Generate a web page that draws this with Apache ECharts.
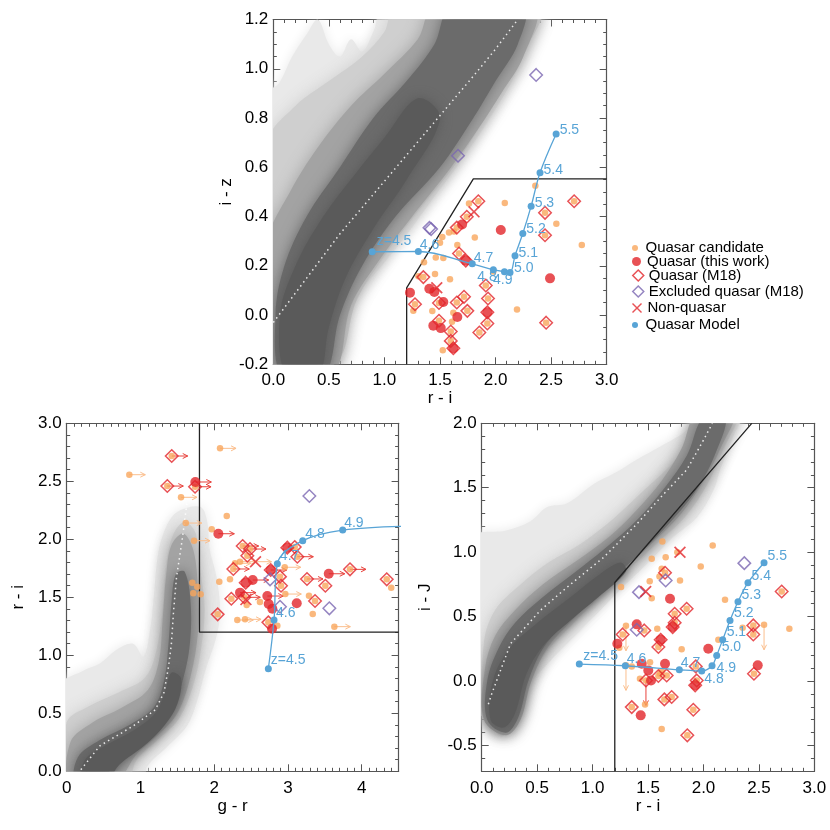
<!DOCTYPE html>
<html>
<head>
<meta charset="utf-8">
<script src="https://cdn.jsdelivr.net/npm/echarts@6.0.0/dist/echarts.min.js"></script>
<style>
html, body { margin: 0; padding: 0; background: #fff; }
#main { width: 830px; height: 830px; }
</style>
</head>
<body>
<div id="main"></div>
<script>
// ---------- data ----------
// top panel: x = r - i, y = i - z
var topCand = [[1.761,0.453],[2.083,0.455],[2.358,0.525],[2.547,0.371],[2.776,0.284],[1.813,0.315],[1.581,0.335],[1.626,0.339],[1.521,0.317],[1.50,0.294],[1.656,0.284],[1.462,0.234],[1.530,0.232],[1.356,0.214],[1.305,0.158],[1.455,0.167],[1.590,0.145],[1.98,0.177],[1.26,0.017],[1.431,0.016],[1.62,0.009],[1.608,-0.027],[2.193,0.023],[1.525,-0.143]];
var topQso = [[1.699,0.368],[2.047,0.345],[2.49,0.149],[1.23,0.091],[1.404,0.107],[1.449,0.094],[1.53,0.053],[1.656,-0.008],[1.44,-0.043],[1.507,-0.053]];
// M18 quasars: [x, y, inner]  inner 1 = also candidate, 2 = also this work
var topM18 = [[1.845,0.462,1],[1.741,0.399,1],[1.651,0.355,1],[1.671,0.25,1],[2.707,0.462,1],[2.445,0.415,1],[2.445,0.324,1],[1.35,0.154,1],[1.912,0.12,1],[1.275,0.044,1],[1.491,0.049,1],[1.716,0.074,1],[1.651,0.051,1],[1.932,0.067,1],[1.746,0.017,1],[1.491,-0.023,1],[1.926,-0.034,1],[1.597,-0.067,1],[1.854,-0.071,1],[1.597,-0.105,1],[2.455,-0.031,1],[1.732,0.221,2],[1.926,0.011,2],[1.62,-0.135,2]];
var topExcl = [[2.365,0.975],[1.662,0.647],[1.405,0.354],[1.42,0.349]];
var topNonQ = [[1.806,0.419],[1.471,0.111]];
var modelZ = [4.5,4.6,4.7,4.8,4.9,5.0,5.1,5.2,5.3,5.4,5.5];
var topModelX = [0.89,1.305,1.79,1.98,2.08,2.13,2.175,2.245,2.32,2.40,2.545];
var topModelY = [0.257,0.258,0.208,0.184,0.176,0.173,0.241,0.331,0.442,0.578,0.735];
var topRidge = [[0.0,-0.03],[0.3,0.15],[0.6,0.33],[0.9,0.49],[1.2,0.65],[1.5,0.81],[1.8,0.97],[2.0,1.08],[2.2,1.2]];
var topCut = [[1.2,-0.2],[1.2,0.11],[1.8,0.553],[3.0,0.553]];
var topCloud = [
  [[-0.05,-0.25],[0.4,-0.25],[0.5,-0.1],[0.62,0.02],[0.86,0.14],[1.14,0.29],[1.44,0.475],[1.68,0.62],[1.92,0.78],[2.16,0.96],[2.37,1.18],[2.45,1.25],[1.0,1.25],[0.9,1.15],[0.8,1.07],[0.7,1.12],[0.6,1.05],[0.5,1.1],[0.4,1.2],[0.3,1.14],[0.17,1.05],[0.05,0.94],[-0.05,0.9]],
  [[-0.05,-0.2],[-0.05,0.7],[0.2,0.85],[0.5,0.95],[0.8,1.05],[1.0,1.15],[1.1,1.25],[2.4,1.25],[2.3,1.1],[2.1,0.94],[1.88,0.78],[1.62,0.6],[1.3,0.42],[1.0,0.24],[0.75,0.06],[0.55,-0.2]],
  [[-0.05,-0.25],[-0.05,0.3],[0.15,0.5],[0.4,0.68],[0.7,0.85],[1.0,0.98],[1.3,1.12],[1.45,1.25],[2.35,1.25],[2.25,1.05],[2.05,0.9],[1.85,0.76],[1.6,0.6],[1.25,0.4],[0.95,0.22],[0.7,0.04],[0.52,-0.25]],
  [[0.08,-0.25],[0.02,0.0],[0.1,0.2],[0.3,0.4],[0.6,0.6],[0.9,0.8],[1.2,0.95],[1.45,1.1],[1.6,1.25],[2.25,1.25],[2.2,1.1],[2.0,0.95],[1.8,0.8],[1.5,0.6],[1.1,0.4],[0.8,0.2],[0.6,0.0],[0.45,-0.25]],
  [[0.12,-0.25],[0.06,0.0],[0.2,0.2],[0.45,0.4],[0.75,0.58],[1.0,0.72],[1.3,0.88],[1.5,0.8],[1.2,0.55],[0.9,0.35],[0.65,0.15],[0.5,-0.05],[0.4,-0.25]]
];

// bottom left: x = g - r, y = r - i ; third value 1 = lower limit on g - r
var blCand = [[0.849,2.557,1],[2.079,2.784,1],[1.55,2.362,1],[2.17,2.2,0],[1.614,2.14,1],[1.966,2.086,0],[1.726,1.988,1],[2.282,1.793,1],[2.35,1.807,1],[2.069,1.635,0],[2.214,1.655,0],[2.956,1.759,1],[1.703,1.626,0],[1.77,1.59,0],[1.716,1.534,0],[1.816,1.526,0],[2.44,1.434,0],[2.62,1.46,0],[2.964,1.528,1],[3.285,1.514,0],[3.336,1.356,0],[2.313,1.304,1],[2.418,1.31,1],[2.856,1.255,0],[3.629,1.247,1],[4.40,1.583,0]];
var blQso = [[1.744,2.494,1],[2.056,2.048,1],[2.522,1.649,1],[3.553,1.703,1],[2.35,1.54,1],[2.72,1.511,1],[2.739,1.442,0],[2.788,1.402,0],[3.119,1.448,0],[2.784,1.229,0]];
var blM18 = [[1.424,2.718,1,1],[1.364,2.459,1,1],[1.74,2.453,1,1],[2.386,1.942,1,1],[2.485,1.916,1,1],[2.449,1.859,1,0],[2.259,1.744,1,1],[2.427,1.626,2,0],[2.766,1.735,2,1],[2.892,1.678,1,0],[2.906,1.6,1,0],[2.991,1.928,2,0],[3.092,1.934,1,0],[3.127,1.85,1,1],[3.258,1.658,1,1],[3.841,1.741,1,1],[3.507,1.6,1,0],[4.339,1.655,1,0],[2.232,1.488,1,0],[2.408,1.5,1,1],[3.367,1.468,1,0],[2.047,1.353,1,0],[2.734,1.284,1,0]];
var blExcl = [[3.29,2.373],[2.757,1.655],[2.892,1.419],[3.561,1.405]];
var blNonQ = [[2.56,1.807,1],[2.43,1.48,0]];
var blModelX = [2.734,2.811,2.856,3.2,3.742,4.75];
var blModelY = [0.885,1.304,1.79,1.988,2.08,2.115];
var blRidge = [[0.15,-0.02],[0.45,0.22],[0.9,0.39],[1.2,0.53],[1.32,0.68],[1.38,0.9],[1.42,1.1],[1.45,1.39],[1.49,1.68],[1.56,1.97],[1.63,2.31],[1.67,2.66]];
var blCut = [[1.8,3.0],[1.8,1.2],[4.5,1.2]];
var blCloud = [
  [[-0.1,-0.1],[-0.1,0.73],[0.23,0.87],[0.45,0.93],[0.68,1.05],[0.9,1.1],[1.04,0.99],[1.13,1.22],[1.18,1.51],[1.22,1.79],[1.27,1.97],[1.4,2.17],[1.54,2.25],[1.81,2.28],[1.9,2.17],[1.94,1.91],[2.03,1.68],[2.08,1.39],[2.03,1.16],[1.88,0.87],[1.76,0.59],[1.63,0.39],[1.36,0.21],[1.09,0.04],[1.05,-0.1]],
  [[0.0,-0.1],[0.0,0.42],[0.3,0.56],[0.7,0.68],[1.05,0.8],[1.2,1.0],[1.3,1.4],[1.35,1.8],[1.45,2.05],[1.6,2.15],[1.75,2.05],[1.82,1.7],[1.87,1.4],[1.82,1.05],[1.72,0.75],[1.52,0.45],[1.25,0.28],[0.95,0.1],[0.8,-0.1]],
  [[0.05,-0.1],[0.05,0.25],[0.35,0.42],[0.75,0.55],[1.1,0.7],[1.25,0.95],[1.3,1.3],[1.35,1.7],[1.42,1.95],[1.58,2.05],[1.72,1.9],[1.78,1.55],[1.78,1.2],[1.68,0.82],[1.5,0.5],[1.25,0.32],[0.95,0.15],[0.65,-0.1]],
  [[0.12,-0.1],[0.15,0.12],[0.45,0.27],[0.85,0.4],[1.18,0.55],[1.32,0.78],[1.38,1.1],[1.42,1.45],[1.48,1.7],[1.6,1.72],[1.68,1.45],[1.67,1.1],[1.58,0.8],[1.42,0.52],[1.18,0.34],[0.88,0.18],[0.6,0.02],[0.5,-0.1]],
  [[0.2,-0.1],[0.25,0.1],[0.55,0.23],[0.9,0.35],[1.2,0.5],[1.33,0.68],[1.42,0.85],[1.55,0.8],[1.5,0.58],[1.33,0.4],[1.05,0.22],[0.72,0.06],[0.52,-0.1]]
];

// bottom right: x = r - i, y = i - J ; third / fourth value 1 = upper limit on i - J
var brCand = [[1.629,1.083,0],[1.764,1.0,0],[2.083,1.052,0],[1.533,0.949,0],[1.659,0.961,0],[1.975,0.889,0],[1.623,0.871,0],[1.603,0.812,0],[1.515,0.775,0],[1.788,0.78,0],[1.256,0.729,0],[1.533,0.643,0],[2.194,0.631,0],[1.583,0.406,0],[1.301,0.429,1],[1.803,0.246,0],[2.134,0.321,0],[2.353,0.414,0],[2.546,0.437,1],[2.774,0.406,0],[1.241,0.259,0],[1.301,0.122,1],[1.353,0.114,0],[1.518,0.147,0],[1.623,0.078,0],[1.427,0.019,0],[1.473,-0.181,0],[1.623,-0.372,0],[1.608,0.057,0]];
var brQso = [[1.698,0.639,0],[1.398,0.44,0],[1.223,0.29,0],[2.043,0.251,0],[2.489,0.122,0],[1.443,0.135,0],[1.502,0.083,0],[1.527,0.005,0],[1.653,0.135,0],[1.434,-0.266,0]];
var brM18 = [[1.653,0.84,1,0],[2.705,0.695,1,0],[1.848,0.561,1,0],[1.74,0.522,1,0],[1.74,0.453,1,0],[1.722,0.419,2,0],[1.271,0.362,1,0],[1.466,0.393,1,0],[1.614,0.321,2,0],[1.593,0.264,1,0],[2.449,0.432,1,0],[2.449,0.362,1,0],[1.93,0.114,1,0],[1.939,0.005,1,0],[1.925,-0.033,2,0],[2.455,0.057,1,0],[1.593,0.039,1,0],[1.668,0.044,1,0],[1.481,0.005,1,1],[1.353,-0.202,1,0],[1.647,-0.142,1,0],[1.713,-0.124,1,0],[1.908,-0.222,1,0],[1.854,-0.421,1,0]];
var brExcl = [[2.368,0.915],[1.659,0.781],[1.418,0.69],[1.398,0.398]];
var brNonQ = [[1.788,1.0,0],[1.479,0.695,0]];
var brModelX = [0.88,1.295,1.782,1.984,2.077,2.119,2.173,2.239,2.311,2.401,2.546];
var brModelY = [0.132,0.119,0.088,0.078,0.119,0.199,0.321,0.47,0.615,0.763,0.918];
var brRidge = [[0.06,-0.18],[0.09,-0.1],[0.26,0.29],[0.53,0.55],[0.8,0.75],[1.1,0.96],[1.4,1.22],[1.64,1.45],[1.85,1.64],[2.0,1.87],[2.08,2.0]];
var brCut = [[1.2,-0.7],[1.2,0.765],[2.435,2.0]];
var brCloud = [
  [[-0.1,-0.2],[-0.1,1.1],[0.23,1.17],[0.44,1.24],[0.59,1.35],[0.77,1.38],[1.01,1.53],[1.19,1.61],[1.4,1.72],[1.61,1.82],[1.85,1.95],[1.94,2.1],[2.35,2.1],[2.27,1.9],[2.15,1.64],[2.09,1.48],[1.94,1.27],[1.73,1.12],[1.55,0.96],[1.31,0.76],[1.07,0.55],[0.83,0.34],[0.59,0.13],[0.35,-0.12],[0.26,-0.36],[0.17,-0.43],[0.05,-0.3]],
  [[0.02,-0.2],[0.02,0.3],[0.12,0.55],[0.35,0.75],[0.6,0.92],[0.9,1.07],[1.2,1.27],[1.45,1.47],[1.7,1.67],[1.9,1.87],[2.03,2.1],[2.32,2.1],[2.18,1.8],[2.03,1.52],[1.83,1.27],[1.58,1.07],[1.33,0.87],[1.07,0.66],[0.82,0.44],[0.57,0.21],[0.4,-0.05],[0.32,-0.3],[0.2,-0.42],[0.08,-0.35]],
  [[0.02,-0.3],[0.03,0.1],[0.12,0.35],[0.3,0.55],[0.55,0.75],[0.85,0.93],[1.15,1.12],[1.4,1.33],[1.62,1.55],[1.8,1.8],[1.95,2.1],[2.28,2.1],[2.15,1.8],[2.0,1.55],[1.8,1.3],[1.55,1.08],[1.3,0.88],[1.05,0.67],[0.8,0.46],[0.58,0.24],[0.44,-0.02],[0.35,-0.3],[0.22,-0.42]],
  [[0.05,-0.3],[0.05,0.0],[0.15,0.25],[0.3,0.45],[0.55,0.65],[0.85,0.85],[1.1,1.02],[1.4,1.25],[1.65,1.5],[1.85,1.75],[2.0,2.05],[2.2,2.05],[2.1,1.75],[1.95,1.5],[1.75,1.28],[1.5,1.05],[1.25,0.85],[1.0,0.65],[0.75,0.45],[0.55,0.25],[0.42,0.0],[0.33,-0.28],[0.22,-0.4]],
  [[0.08,-0.3],[0.1,0.0],[0.25,0.25],[0.5,0.45],[0.8,0.65],[1.05,0.82],[1.25,0.92],[1.3,0.85],[1.05,0.65],[0.8,0.47],[0.55,0.27],[0.4,0.05],[0.3,-0.25],[0.2,-0.36]]
];

// tick labels
var topXTicks = [0, 0.5, 1, 1.5, 2, 2.5, 3];
var topYTicks = [-0.2, 0, 0.2, 0.4, 0.6, 0.8, 1.0, 1.2];
var blXTicks = [0, 1, 2, 3, 4];
var blYTicks = [0, 0.5, 1, 1.5, 2, 2.5, 3];
var brXTicks = [0, 0.5, 1, 1.5, 2, 2.5, 3];
var brYTicks = [-0.5, 0, 0.5, 1, 1.5, 2];

// ---------- styles ----------
var FONT = 'Liberation Sans, Arial, Helvetica, sans-serif';
var AXIS = '#555';
var C_CAND = '#f9a65c', C_QSO = '#e2252a', C_EXCL = '#7a66b2', C_MODEL = '#58a4d6';
var C_ARR_CAND = '#fbbf8e', C_ARR_QSO = '#e8433d';
// outer -> inner density levels
var CLOUD_COLORS = ['#e9e9e9', '#cfcfcf', '#a3a3a3', '#6b6b6b', '#5a5a5a'];
var CLOUD_BLUR = [12, 16, 16, 14, 12];
var X_PATH = 'path://M0,1L1,0L5,4L9,0L10,1L6,5L10,9L9,10L5,6L1,10L0,9L4,5Z';

var topLabelOff = [[1,-11],[-2,-6],[-2,-6],[-19.5,7],[-15,8],[0.5,-4],[0,-3],[0,-4],[0,-3],[0,-3],[0,-4]];
var blLabelOff = [[-1,-8],[-1.5,-7],[-1,-8],[-1,-7],[-2,-7],null];
var brLabelOff = [[0.5,-8],[-2,-7],[-2,-7],[-1,8],[1,2],[1.5,-8],[0.5,-8],[0.5,-7],[0,-7],[0,-7],[0,-7]];

function steps(a, b, s) {
  var out = [];
  for (var v = a; v <= b + 1e-9; v += s) out.push(Math.round(v * 1000) / 1000);
  return out;
}
function fmt1(v) { return (Math.abs(v) < 1e-9 ? 0 : v).toFixed(1); }
function fmt0(v) { return String(Math.round(v)); }

var xAxes = [], yAxes = [];
function addAxes(list, gi, dim, min, max, major, minorStep, fmt, name, nameGap, margin) {
  var pos = dim === 'x' ? ['bottom', 'top'] : ['left', 'right'];
  var minor = steps(min, max, minorStep);
  function base(p, showLine) {
    return {
      gridIndex: gi, type: 'value', position: p, min: min, max: max,
      splitLine: { show: false },
      axisLine: { show: showLine, onZero: false, lineStyle: { color: AXIS, width: 1.2 } }
    };
  }
  var main = base(pos[0], true);
  main.axisTick = { show: true, inside: true, length: 7, customValues: major, lineStyle: { color: AXIS } };
  main.axisLabel = { show: true, customValues: major, formatter: fmt, margin: margin, color: '#000', fontSize: 17, fontFamily: FONT };
  main.name = name;
  main.nameLocation = 'middle';
  main.nameGap = nameGap;
  main.nameTextStyle = { color: '#000', fontSize: 17, fontFamily: FONT };
  var opp = base(pos[1], true);
  opp.axisTick = { show: true, inside: true, length: 7, customValues: major, lineStyle: { color: AXIS } };
  opp.axisLabel = { show: false };
  var mn = base(pos[0], false);
  mn.axisTick = { show: true, inside: true, length: 3.5, customValues: minor, lineStyle: { color: AXIS } };
  mn.axisLabel = { show: false };
  var mo = base(pos[1], false);
  mo.axisTick = { show: true, inside: true, length: 3.5, customValues: minor, lineStyle: { color: AXIS } };
  mo.axisLabel = { show: false };
  list.push(main, opp, mn, mo);
}

addAxes(xAxes, 0, 'x', 0, 3, topXTicks, 0.1, fmt1, 'r - i', 25, 8);
addAxes(yAxes, 0, 'y', -0.2, 1.2, topYTicks, 0.05, fmt1, 'i - z', 30, 5);
addAxes(xAxes, 1, 'x', 0, 4.5, blXTicks, 0.1, fmt0, 'g - r', 26, 9);
addAxes(yAxes, 1, 'y', 0, 3, blYTicks, 0.1, fmt1, 'r - i', 40, 5);
addAxes(xAxes, 2, 'x', 0, 3, brXTicks, 0.1, fmt1, 'r - i', 26, 9);
addAxes(yAxes, 2, 'y', -0.7, 2.0, brYTicks, 0.1, fmt1, 'i - J', 48, 5);

function cloudSeries(ai, polys) {
  return {
    type: 'custom', coordinateSystem: 'cartesian2d', xAxisIndex: ai, yAxisIndex: ai,
    clip: true, silent: true, z: 1,
    data: polys.map(function (p, i) { return [i]; }),
    renderItem: function (params, api) {
      var i = params.dataIndex;
      var pts = polys[i].map(function (p) { return api.coord(p); });
      return {
        type: 'polygon',
        shape: { points: pts, smooth: 0.35 },
        style: { fill: CLOUD_COLORS[i], shadowBlur: CLOUD_BLUR[i], shadowColor: CLOUD_COLORS[i] }
      };
    }
  };
}

function arrowSeries(ai, pts, color, dir) {
  return {
    type: 'custom', coordinateSystem: 'cartesian2d', xAxisIndex: ai, yAxisIndex: ai,
    silent: true, z: 3,
    data: pts.map(function (p) { return [p[0], p[1]]; }),
    encode: { x: 0, y: 1 },
    renderItem: function (params, api) {
      var p = api.coord([api.value(0), api.value(1)]);
      var q, head;
      if (dir === 'right') {
        q = [p[0] + 16, p[1]];
        head = [[q[0] - 5, q[1] - 2.5], q, [q[0] - 5, q[1] + 2.5]];
      } else {
        q = [p[0], p[1] + 25];
        head = [[q[0] - 2.5, q[1] - 5], q, [q[0] + 2.5, q[1] - 5]];
      }
      return {
        type: 'group',
        children: [
          { type: 'line', shape: { x1: p[0], y1: p[1], x2: q[0], y2: q[1] }, style: { stroke: color, lineWidth: 1 } },
          { type: 'polyline', shape: { points: head }, style: { stroke: color, fill: null, lineWidth: 1 } }
        ]
      };
    }
  };
}

function xy(p) { return [p[0], p[1]]; }

function panel(ai, P) {
  var cand = P.cand.map(xy).concat(P.m18.filter(function (p) { return p[2] === 1; }).map(xy));
  var qso = P.qso.map(xy).concat(P.m18.filter(function (p) { return p[2] === 2; }).map(xy));
  var s = [];
  s.push(cloudSeries(ai, P.cloud));
  s.push({ type: 'line', xAxisIndex: ai, yAxisIndex: ai, data: P.ridge, showSymbol: false, silent: true, z: 2,
    lineStyle: { color: 'rgba(255,255,255,0.85)', width: 1.5, type: [1.5, 3.5] } });
  s.push({ type: 'line', xAxisIndex: ai, yAxisIndex: ai, data: P.cut, showSymbol: false, silent: true, z: 2,
    lineStyle: { color: '#222', width: 1.3 } });
  if (P.arrow) {
    var candLim = P.cand.filter(function (p) { return p[2] === 1; })
      .concat(P.nonq.filter(function (p) { return p[2] === 1; }));
    var redLim = P.qso.filter(function (p) { return p[2] === 1; })
      .concat(P.m18.filter(function (p) { return p[3] === 1; }));
    s.push(arrowSeries(ai, candLim, C_ARR_CAND, P.arrow));
    s.push(arrowSeries(ai, redLim, C_ARR_QSO, P.arrow));
  }
  s.push({ name: 'Quasar candidate', type: 'scatter', xAxisIndex: ai, yAxisIndex: ai, data: cand, z: 4,
    symbol: 'circle', symbolSize: 6.5, itemStyle: { color: C_CAND } });
  s.push({ name: 'Quasar (this work)', type: 'scatter', xAxisIndex: ai, yAxisIndex: ai, data: qso, z: 5,
    symbol: 'circle', symbolSize: 10, itemStyle: { color: C_QSO } });
  s.push({ name: 'Quasar (M18)', type: 'scatter', xAxisIndex: ai, yAxisIndex: ai, data: P.m18.map(xy), z: 6,
    symbol: 'diamond', symbolSize: 12.5, itemStyle: { color: 'rgba(0,0,0,0)', borderColor: C_QSO, borderWidth: 1.5 } });
  s.push({ name: 'Excluded quasar (M18)', type: 'scatter', xAxisIndex: ai, yAxisIndex: ai, data: P.excl, z: 6,
    symbol: 'diamond', symbolSize: 12.5, itemStyle: { color: 'rgba(0,0,0,0)', borderColor: C_EXCL, borderWidth: 1.5 } });
  s.push({ name: 'Non-quasar', type: 'scatter', xAxisIndex: ai, yAxisIndex: ai, data: P.nonq.map(xy), z: 7,
    symbol: X_PATH, symbolSize: 12, itemStyle: { color: C_QSO } });
  var md = P.mx.map(function (x, i) {
    var off = P.off[i];
    return {
      value: [x, P.my[i]],
      label: off ? { show: true, position: 'right', distance: 0, offset: off,
        formatter: (i === 0 ? 'z=' : '') + modelZ[i].toFixed(1),
        color: C_MODEL, fontSize: 14, fontFamily: FONT } : { show: false }
    };
  });
  s.push({ name: 'Quasar Model', type: 'line', xAxisIndex: ai, yAxisIndex: ai, data: md, z: 8,
    smooth: 0.35, symbol: 'circle', symbolSize: 7, showAllSymbol: true,
    lineStyle: { color: C_MODEL, width: 1.3 }, itemStyle: { color: C_MODEL } });
  return s;
}

var series = []
  .concat(panel(0, { cloud: topCloud, ridge: topRidge, cut: topCut, cand: topCand, qso: topQso, m18: topM18,
    excl: topExcl, nonq: topNonQ, mx: topModelX, my: topModelY, off: topLabelOff, arrow: null }))
  .concat(panel(4, { cloud: blCloud, ridge: blRidge, cut: blCut, cand: blCand, qso: blQso, m18: blM18,
    excl: blExcl, nonq: blNonQ, mx: blModelX, my: blModelY, off: blLabelOff, arrow: 'right' }))
  .concat(panel(8, { cloud: brCloud, ridge: brRidge, cut: brCut, cand: brCand, qso: brQso, m18: brM18,
    excl: brExcl, nonq: brNonQ, mx: brModelX, my: brModelY, off: brLabelOff, arrow: 'down' }));

// legend, one row each so icon sizes can differ
var legendItems = [
  { name: 'Quasar candidate', icon: 'circle', h: 6 },
  { name: 'Quasar (this work)', icon: 'circle', h: 9 },
  { name: 'Quasar (M18)', icon: 'diamond', h: 11 },
  { name: 'Excluded quasar (M18)', icon: 'diamond', h: 11 },
  { name: 'Non-quasar', icon: X_PATH, h: 10 },
  { name: 'Quasar Model', icon: 'circle', h: 6 }
];
var legendRowY = [243, 258, 273, 289, 305, 320];
var legends = legendItems.map(function (it, i) {
  return {
    data: [{ name: it.name, icon: it.icon }],
    orient: 'vertical', left: 632, top: legendRowY[i] - it.h / 2,
    itemWidth: 11, itemHeight: it.h, itemGap: 0, padding: 0, selectedMode: false,
    itemStyle: { borderWidth: 1.5 },
    textStyle: { color: '#000', fontSize: 15, fontFamily: FONT, lineHeight: 16 }
  };
});

var chart = echarts.init(document.getElementById('main'), null, { renderer: 'canvas' });
chart.setOption({
  animation: false,
  backgroundColor: '#fff',
  grid: [
    { left: 273.3, top: 19.5, width: 333.4, height: 344.8 },
    { left: 66.7, top: 423.3, width: 331.9, height: 348 },
    { left: 481.7, top: 423.3, width: 332.7, height: 348 }
  ],
  xAxis: xAxes,
  yAxis: yAxes,
  legend: legends,
  series: series
});
</script>
</body>
</html>
